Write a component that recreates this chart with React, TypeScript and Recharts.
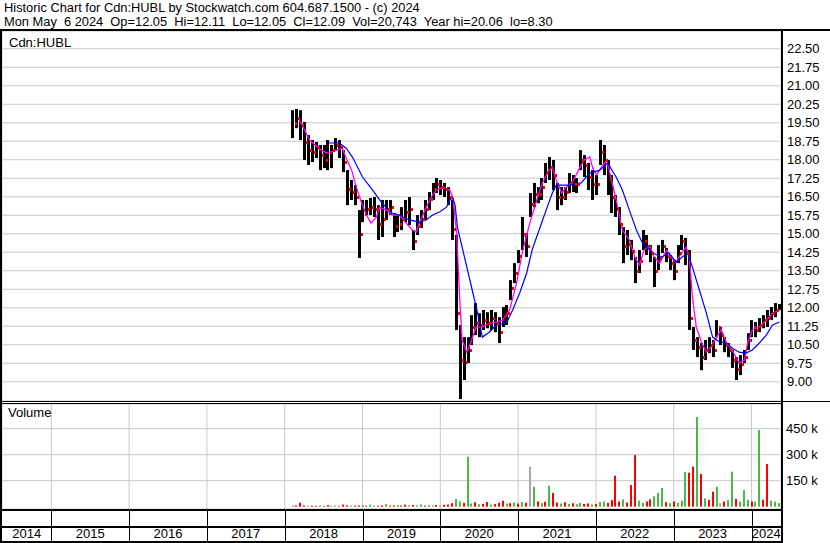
import React from 'react';
import { ComposedChart, Bar, Line, Scatter, XAxis, YAxis, CartesianGrid, Cell } from 'recharts';

// ---------- data ----------
const barTimes = [
  2018.10, 2018.15, 2018.20, 2018.25, 2018.30, 2018.35, 2018.40, 2018.45, 2018.50, 2018.55, 2018.60, 2018.65, 2018.70, 2018.75, 2018.80, 2018.85, 2018.90, 2018.95,
  2019.00, 2019.05, 2019.10, 2019.15, 2019.20, 2019.25, 2019.30, 2019.35, 2019.40, 2019.45, 2019.50, 2019.55, 2019.60, 2019.65, 2019.70, 2019.75, 2019.80, 2019.85, 2019.90, 2019.95,
  2020.00, 2020.05, 2020.10, 2020.15, 2020.20, 2020.25, 2020.30, 2020.35, 2020.40, 2020.45, 2020.50, 2020.55, 2020.60, 2020.65, 2020.70, 2020.75, 2020.80, 2020.85, 2020.90, 2020.95,
  2021.00, 2021.05, 2021.10, 2021.15, 2021.20, 2021.25, 2021.30, 2021.35, 2021.40, 2021.45, 2021.50, 2021.55, 2021.60, 2021.65, 2021.70, 2021.75, 2021.80, 2021.85, 2021.90, 2021.95,
  2022.00, 2022.05, 2022.10, 2022.15, 2022.20, 2022.25, 2022.30, 2022.35, 2022.40, 2022.45, 2022.50, 2022.55, 2022.60, 2022.65, 2022.70, 2022.75, 2022.80, 2022.85, 2022.90, 2022.95,
  2023.00, 2023.05, 2023.10, 2023.15, 2023.20, 2023.25, 2023.30, 2023.35, 2023.40, 2023.45, 2023.50, 2023.55, 2023.60, 2023.65, 2023.70, 2023.75, 2023.80, 2023.85, 2023.90, 2023.95,
  2024.00, 2024.05, 2024.10, 2024.15, 2024.20, 2024.25, 2024.30, 2024.35,
];

const highs = [
  20.01, 20.06, 20.01, 19.53, 19.00, 18.80, 18.72, 18.60, 18.60, 18.80, 18.60, 18.88, 18.80, 18.39, 17.58, 17.18, 16.97, 15.96,
  16.37, 16.37, 16.45, 16.49, 16.16, 16.37, 16.37, 16.37, 15.84, 15.76, 16.08, 16.37, 16.49, 15.15, 15.76, 15.96, 16.37, 16.69, 17.06, 17.26,
  17.18, 17.06, 16.89, 16.37, 14.95, 11.30, 10.81, 10.81, 11.70, 12.19, 11.78, 11.91, 11.82, 11.91, 11.82, 11.62, 12.03, 12.11, 13.12, 13.81,
  14.34, 15.68, 15.03, 16.65, 17.06, 16.89, 17.26, 17.87, 18.11, 17.99, 17.06, 16.89, 16.89, 17.46, 17.38, 17.26, 18.39, 18.19, 17.87, 17.58,
  17.38, 18.80, 18.60, 17.99, 17.38, 16.57, 16.08, 15.27, 15.15, 14.75, 14.06, 14.34, 15.15, 14.95, 14.54, 14.06, 14.54, 14.75, 14.42, 14.14,
  13.93, 14.54, 14.95, 14.83, 14.34, 11.22, 10.81, 10.57, 10.69, 10.81, 10.69, 11.50, 11.22, 10.81, 10.57, 10.29, 10.00, 10.08, 10.29, 10.97,
  11.50, 11.42, 11.58, 11.70, 11.91, 12.03, 12.19, 12.15,
];

const lows = [
  18.88, 19.28, 18.80, 17.99, 17.79, 17.91, 18.07, 17.58, 17.66, 17.58, 17.66, 18.39, 18.07, 17.50, 16.16, 16.37, 16.16, 14.02,
  15.47, 15.76, 15.76, 15.68, 14.75, 14.87, 15.56, 15.76, 14.87, 15.07, 15.15, 15.47, 15.35, 14.34, 14.95, 15.23, 15.56, 15.96, 16.37, 16.65,
  16.57, 16.49, 16.16, 14.75, 11.10, 8.30, 9.07, 9.76, 10.49, 10.89, 10.81, 11.10, 11.17, 11.10, 11.01, 10.57, 11.22, 11.30, 12.31, 13.00,
  13.81, 14.34, 14.06, 15.68, 16.08, 16.24, 16.37, 17.06, 17.18, 16.77, 15.96, 16.16, 16.37, 16.65, 16.69, 16.65, 17.58, 17.30, 16.77, 16.37,
  16.57, 17.79, 17.38, 16.57, 15.84, 15.68, 14.95, 13.81, 14.14, 13.93, 13.00, 13.41, 14.34, 14.14, 13.85, 12.84, 13.53, 14.22, 13.85, 13.53,
  13.12, 13.81, 14.34, 13.73, 11.10, 10.29, 10.00, 9.47, 9.88, 10.16, 10.00, 10.81, 10.49, 10.20, 10.00, 9.56, 9.07, 9.27, 9.76, 10.29,
  10.81, 10.81, 11.01, 11.17, 11.22, 11.50, 11.62, 11.91,
];

const closes = [
  19.50, 19.70, 19.40, 18.70, 18.40, 18.30, 18.50, 18.20, 18.00, 18.30, 18.40, 18.60, 18.50, 17.90, 16.80, 16.70, 16.50, 15.00,
  15.80, 16.00, 16.10, 16.00, 15.40, 15.60, 16.00, 16.10, 15.30, 15.40, 15.60, 15.90, 16.00, 14.70, 15.30, 15.60, 16.00, 16.40, 16.80, 17.00,
  16.90, 16.80, 16.50, 15.20, 11.80, 9.90, 9.80, 10.30, 11.20, 11.40, 11.30, 11.50, 11.40, 11.60, 11.40, 11.00, 11.70, 11.80, 12.80, 13.40,
  14.10, 15.00, 14.50, 16.20, 16.60, 16.60, 16.90, 17.50, 17.70, 17.40, 16.50, 16.50, 16.70, 17.10, 17.00, 17.00, 18.00, 17.80, 17.30, 17.00,
  17.00, 18.30, 18.00, 17.20, 16.50, 16.00, 15.40, 14.50, 14.60, 14.30, 13.50, 13.90, 14.70, 14.50, 14.20, 13.50, 14.00, 14.50, 14.10, 13.80,
  13.50, 14.20, 14.70, 14.20, 11.60, 10.70, 10.40, 10.00, 10.30, 10.50, 10.30, 11.20, 10.90, 10.50, 10.30, 9.90, 9.50, 9.70, 10.00, 10.70,
  11.20, 11.10, 11.30, 11.50, 11.60, 11.80, 11.90, 12.09,
];

// volume in thousands of shares
const volumesK = [
  6, 8, 23, 7, 5, 6, 5, 7, 4, 9, 5, 6, 4, 12, 8, 5, 6, 7,
  9, 5, 12, 6, 5, 8, 16, 6, 7, 9, 6, 12, 8, 10, 7, 13, 6, 9, 7, 10,
  8, 11, 12, 20, 44, 30, 22, 288, 18, 25, 14, 16, 27, 12, 15, 22, 34, 18, 20, 24,
  18, 27, 22, 231, 115, 30, 20, 28, 121, 79, 24, 18, 26, 15, 20, 14, 22, 16, 19, 12,
  15, 28, 30, 22, 38, 179, 30, 42, 24, 125, 298, 35, 22, 30, 42, 60, 79, 108, 26, 20,
  30, 22, 35, 200, 196, 231, 517, 189, 48, 40, 87, 115, 21, 30, 38, 202, 45, 30, 96, 40,
  30, 28, 442, 40, 246, 35, 30, 21,
];

// g = up day, r = down day, n = unchanged
const volDirs = [
  'g', 'r', 'r', 'r', 'g', 'r', 'r', 'g', 'r', 'r', 'g', 'g', 'r', 'r', 'r', 'g', 'r', 'r',
  'g', 'r', 'g', 'g', 'r', 'r', 'g', 'r', 'r', 'g', 'r', 'r', 'g', 'r', 'g', 'g', 'r', 'g', 'g', 'r',
  'g', 'r', 'r', 'r', 'g', 'g', 'r', 'g', 'g', 'r', 'g', 'r', 'r', 'g', 'r', 'r', 'r', 'g', 'r', 'g',
  'r', 'g', 'r', 'n', 'g', 'r', 'g', 'r', 'g', 'r', 'r', 'g', 'r', 'g', 'r', 'g', 'g', 'r', 'r', 'g',
  'r', 'g', 'g', 'r', 'r', 'r', 'r', 'g', 'r', 'r', 'r', 'g', 'g', 'r', 'r', 'g', 'g', 'g', 'r', 'g',
  'r', 'g', 'g', 'g', 'r', 'r', 'g', 'r', 'g', 'r', 'r', 'g', 'n', 'r', 'g', 'g', 'r', 'g', 'g', 'g',
  'r', 'g', 'g', 'r', 'r', 'g', 'g', 'g',
];

// short moving average (magenta)
const fastTimes = [
  2018.19, 2018.32, 2018.45, 2018.54, 2018.67, 2018.74, 2018.79, 2018.86, 2018.92, 2018.99,
  2019.05, 2019.11, 2019.18, 2019.22, 2019.31, 2019.38, 2019.47, 2019.56, 2019.64, 2019.69, 2019.73, 2019.82, 2019.90, 2019.95,
  2020.03, 2020.12, 2020.16, 2020.21, 2020.25, 2020.28, 2020.34, 2020.37, 2020.46, 2020.54, 2020.63, 2020.72, 2020.80, 2020.89, 2020.98,
  2021.06, 2021.15, 2021.24, 2021.31, 2021.40, 2021.44, 2021.49, 2021.56, 2021.62, 2021.70, 2021.79, 2021.85, 2021.92, 2021.96,
  2022.01, 2022.07, 2022.14, 2022.20, 2022.26, 2022.34, 2022.43, 2022.50, 2022.56, 2022.62, 2022.69, 2022.75, 2022.82, 2022.91, 2022.97,
  2023.03, 2023.10, 2023.16, 2023.20, 2023.24, 2023.29, 2023.36, 2023.42, 2023.48, 2023.55, 2023.61, 2023.68, 2023.75, 2023.84, 2023.91, 2023.95,
  2024.01, 2024.10, 2024.19, 2024.27, 2024.36,
];
const fastValues = [
  19.61, 18.80, 18.43, 18.27, 18.39, 18.47, 18.07, 17.58, 16.89, 16.24,
  15.76, 15.43, 15.68, 16.08, 15.96, 15.76, 15.76, 15.43, 15.15, 15.07, 15.43, 16.08, 16.57, 16.77,
  16.89, 16.77, 16.49, 15.03, 12.31, 10.69, 10.20, 10.41, 11.22, 11.22, 11.38, 11.42, 11.50, 11.91, 13.00,
  14.34, 15.43, 16.37, 17.06, 17.58, 17.70, 17.18, 16.65, 16.89, 17.10, 17.66, 17.99, 18.11, 17.66,
  17.38, 17.70, 17.99, 17.18, 16.37, 15.15, 14.75, 14.06, 13.73, 14.34, 14.54, 14.06, 13.81, 14.34, 14.02,
  13.85, 14.22, 14.46, 14.06, 12.44, 11.22, 10.57, 10.20, 10.41, 10.81, 11.10, 10.57, 10.29, 9.76, 9.88, 10.57,
  11.10, 11.22, 11.50, 11.78, 11.91,
];

// long moving average (blue)
const slowTimes = [
  2018.56, 2018.70, 2018.79, 2018.87, 2019.00, 2019.13, 2019.22, 2019.31, 2019.38, 2019.47, 2019.60, 2019.73, 2019.82, 2019.90, 2019.99,
  2020.08, 2020.12, 2020.16, 2020.19, 2020.22, 2020.28, 2020.35, 2020.41, 2020.48, 2020.54, 2020.63, 2020.72, 2020.85, 2020.93,
  2021.02, 2021.11, 2021.18, 2021.27, 2021.36, 2021.44, 2021.49, 2021.66, 2021.81, 2021.92,
  2022.05, 2022.15, 2022.26, 2022.34, 2022.43, 2022.52, 2022.60, 2022.73, 2022.85, 2022.94,
  2023.03, 2023.11, 2023.18, 2023.24, 2023.33, 2023.42, 2023.50, 2023.59, 2023.68, 2023.75, 2023.84, 2023.93,
  2024.01, 2024.10, 2024.19, 2024.27, 2024.36,
];
const slowValues = [
  18.68, 18.68, 18.47, 18.11, 17.30, 16.77, 16.37, 16.04, 15.84, 15.76, 15.56, 15.47, 15.56, 15.76, 15.88,
  16.08, 16.37, 16.45, 16.16, 15.27, 14.46, 13.53, 12.72, 11.78, 10.81, 11.01, 11.30, 11.38, 11.91,
  12.60, 13.41, 14.34, 15.15, 15.96, 16.65, 16.97, 16.97, 17.06, 17.46,
  17.58, 17.87, 17.30, 16.77, 15.96, 15.15, 14.62, 14.22, 14.06, 14.22,
  13.85, 14.06, 14.22, 13.65, 12.72, 11.78, 10.81, 10.61, 10.57, 10.37, 10.20, 10.16,
  10.29, 10.57, 10.89, 11.30, 11.42,
];

const priceTicks = [9.0, 9.75, 10.5, 11.25, 12.0, 12.75, 13.5, 14.25, 15.0, 15.75, 16.5, 17.25, 18.0, 18.75, 19.5, 20.25, 21.0, 21.75, 22.5];
const volumeTicksK = [150, 300, 450];
const yearStarts = [2015, 2016, 2017, 2018, 2019, 2020, 2021, 2022, 2023, 2024];
const yearLabels = ['2014', '2015', '2016', '2017', '2018', '2019', '2020', '2021', '2022', '2023', '2024'];

const headerLine1 = 'Historic Chart for Cdn:HUBL by Stockwatch.com 604.687.1500 - (c) 2024';
const headerLine2 = 'Mon May  6 2024  Op=12.05  Hi=12.11  Lo=12.05  Cl=12.09  Vol=20,743  Year hi=20.06  lo=8.30';
const symbolLabel = 'Cdn:HUBL';
const volumeLabel = 'Volume';

// ---------- derived tables ----------
const bars = barTimes.map((t, i) => ({
  t,
  hi: highs[i],
  lo: lows[i],
  close: closes[i],
  vol: volumesK[i],
  dir: volDirs[i],
}));
const fastMA = fastTimes.map((t, i) => ({ t, v: fastValues[i] }));
const slowMA = slowTimes.map((t, i) => ({ t, v: slowValues[i] }));

// ---------- layout constants ----------
const W = 830;
const PLOT_LEFT = 2;
const PLOT_RIGHT = 781;
const AXIS_W = W - PLOT_RIGHT;
const T0 = 2014.366;
const T1 = 2024.379;
const FONT = '"Liberation Sans", Arial, sans-serif';
const GRID = '#c8c8c8';
const VOL_COLORS: Record<string, string> = { g: '#4cb84c', r: '#ff0000', n: '#a8a8a8' };

const PriceTick = (props: any) => {
  const { y, payload } = props;
  return (
    <text x={PLOT_RIGHT + 6} y={y} dy={4.5} textAnchor="start" fontSize={13} fontFamily={FONT} fill="#000">
      {Number(payload.value).toFixed(2)}
    </text>
  );
};

const VolTick = (props: any) => {
  const { y, payload } = props;
  return (
    <text x={PLOT_RIGHT + 5} y={y} dy={4.5} textAnchor="start" fontSize={13} fontFamily={FONT} fill="#000">
      {`${payload.value} k`}
    </text>
  );
};

const PX_PER_YEAR = (PLOT_RIGHT - PLOT_LEFT) / (T1 - T0);

const YearTick = (props: any) => {
  const { x, payload, index } = props;
  const v = payload.value as number;
  const xi = Math.round(x) + 0.5;
  const segStart = Math.max(x - PX_PER_YEAR, PLOT_LEFT);
  const idx = yearStarts.indexOf(v);
  const isLast = idx === yearStarts.length - 1;
  return (
    <g key={`yt-${index}`}>
      <line x1={xi} x2={xi} y1={107} y2={138} stroke="#000" strokeWidth={1} />
      <text x={(segStart + x) / 2} y={135} textAnchor="middle" fontSize={13} fontFamily={FONT} fill="#000">
        {yearLabels[idx]}
      </text>
      {isLast ? (
        <text x={(x + PLOT_RIGHT) / 2} y={135} textAnchor="middle" fontSize={13} fontFamily={FONT} fill="#000">
          {yearLabels[idx + 1]}
        </text>
      ) : null}
    </g>
  );
};

// high-low bar: a solid black stroke of fixed width centred on the date
const RangeBar = (props: any) => {
  const { x, y, width, height } = props;
  if (x == null || y == null || height == null) return null;
  const cx = x + width / 2;
  const top = Math.min(y, y + height);
  const h = Math.max(Math.abs(height), 1);
  return <rect x={Math.round(cx) - 1} y={top} width={3} height={h} fill="#000" />;
};

const VolBar = (props: any) => {
  const { x, y, width, height, fill } = props;
  if (x == null || y == null || height == null || height <= 0) return null;
  const cx = x + width / 2;
  return <rect x={Math.round(cx) - 1} y={y} width={2} height={height} fill={fill} />;
};

const CloseMark = (props: any) => {
  const { cx, cy } = props;
  if (cx == null || cy == null) return null;
  return <rect x={Math.round(cx) + 2} y={Math.round(cy) - 1} width={2} height={3} fill="#ff0000" />;
};

const hline = (top: number, left: number, width: number, height: number) => (
  <div style={{ position: 'absolute', top, left, width, height, background: '#000' }} />
);

export default function App() {
  return (
    <div style={{ position: 'absolute', left: 0, top: 0, width: W, height: 543, background: '#fff', overflow: 'hidden' }}>
      <div
        style={{
          position: 'absolute',
          left: 4,
          top: 1,
          fontFamily: FONT,
          fontSize: 12.85,
          lineHeight: '14px',
          whiteSpace: 'pre',
          color: '#000',
        }}
      >
        <div>{headerLine1}</div>
        <div>{headerLine2}</div>
      </div>

      {/* price panel */}
      <div style={{ position: 'absolute', left: 0, top: 31 }}>
        <ComposedChart width={W} height={370} data={bars} margin={{ top: 0, right: 0, bottom: 0, left: PLOT_LEFT }}>
          <CartesianGrid stroke={GRID} strokeWidth={1} />
          <XAxis
            dataKey="t"
            type="number"
            domain={[T0, T1]}
            ticks={yearStarts}
            allowDataOverflow
            height={0}
            tick={false}
            tickLine={false}
            axisLine={false}
          />
          <YAxis
            orientation="right"
            type="number"
            domain={[8.22, 23.22]}
            ticks={priceTicks}
            allowDataOverflow
            width={AXIS_W}
            tick={<PriceTick />}
            tickLine={false}
            axisLine={false}
            interval={0}
          />
          <Bar dataKey={(d: any) => [d.lo, d.hi]} fill="#000" barSize={3} shape={<RangeBar />} isAnimationActive={false} />
          <Scatter dataKey="close" shape={<CloseMark />} isAnimationActive={false} />
          <Line data={fastMA} dataKey="v" type="linear" stroke="#ff00ff" strokeWidth={1.3} dot={false} isAnimationActive={false} />
          <Line data={slowMA} dataKey="v" type="linear" stroke="#0000ff" strokeWidth={1.2} dot={false} isAnimationActive={false} />
        </ComposedChart>
      </div>

      {/* volume panel */}
      <div style={{ position: 'absolute', left: 0, top: 403 }}>
        <ComposedChart width={W} height={140} data={bars} margin={{ top: 1, right: 0, bottom: 0, left: PLOT_LEFT }}>
          <CartesianGrid stroke={GRID} strokeWidth={1} />
          <XAxis
            dataKey="t"
            type="number"
            domain={[T0, T1]}
            ticks={yearStarts}
            allowDataOverflow
            height={34}
            tick={<YearTick />}
            tickLine={false}
            axisLine={false}
            interval={0}
          />
          <YAxis
            orientation="right"
            type="number"
            domain={[-13.3, 592.5]}
            ticks={volumeTicksK}
            allowDataOverflow
            width={AXIS_W}
            tick={<VolTick />}
            tickLine={false}
            axisLine={false}
            interval={0}
          />
          <Bar dataKey="vol" barSize={2} shape={<VolBar />} isAnimationActive={false}>
            {bars.map((b, i) => (
              <Cell key={`v-${i}`} fill={VOL_COLORS[b.dir]} />
            ))}
          </Bar>
        </ComposedChart>
      </div>

      {/* labels */}
      <div style={{ position: 'absolute', left: 9, top: 35, fontFamily: FONT, fontSize: 13, color: '#000' }}>{symbolLabel}</div>
      <div style={{ position: 'absolute', left: 8, top: 405, fontFamily: FONT, fontSize: 13, color: '#000' }}>{volumeLabel}</div>

      {/* frame lines */}
      {hline(29, 0, W, 2)}
      {hline(29, 0, 2, 514)}
      {hline(29, PLOT_RIGHT, 2, 514)}
      {hline(401, 0, W, 1)}
      {hline(403, 0, PLOT_RIGHT, 1)}
      {hline(509, 0, PLOT_RIGHT + 2, 2)}
      {hline(526, 0, PLOT_RIGHT + 2, 2)}
      {hline(541, 0, PLOT_RIGHT + 2, 2)}
    </div>
  );
}
